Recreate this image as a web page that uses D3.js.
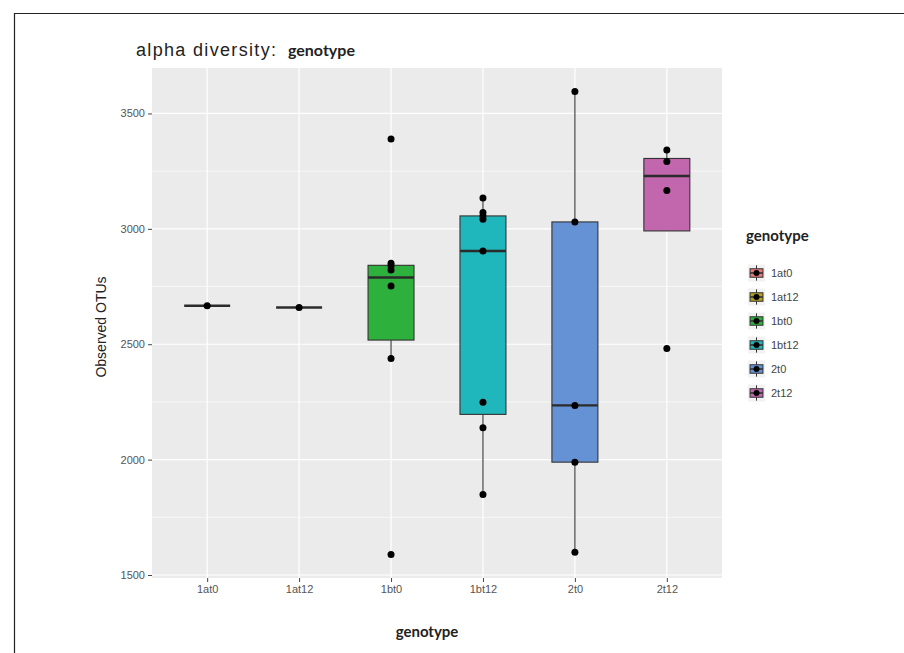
<!DOCTYPE html>
<html>
<head>
<meta charset="utf-8">
<script src="https://cdn.jsdelivr.net/npm/d3@7"></script>
<style>
  body { margin: 0; background: #fff; }
  svg { display: block; }
</style>
</head>
<body>
<script>
// data
const categories = ['1at0', '1at12', '1bt0', '1bt12', '2t0', '2t12'];
const fillColors = ['#E8787A', '#B2A01E', '#2EB13C', '#1FB7BB', '#6592D4', '#C266AE'];
const boxQ1 = [2667, 2659, 2518, 2196, 1989, 2991];
const boxMedian = [2667, 2659, 2789, 2904, 2235, 3229];
const boxQ3 = [2667, 2659, 2842, 3056, 3030, 3305];
const whiskerLow = [2667, 2659, 2438, 1849, 1599, 2991];
const whiskerHigh = [2667, 2659, 2851, 3134, 3595, 3342];
const pointValues = [
  [2667],
  [2659],
  [3389, 2851, 2839, 2822, 2752, 2438, 1589],
  [3134, 3071, 3056, 3042, 2904, 2249, 2138, 1849],
  [3595, 3030, 2235, 1989, 1599],
  [3342, 3292, 3166, 2481]
];
const yMajor = [1500, 2000, 2500, 3000, 3500];
const yMinor = [1750, 2250, 2750, 3250];

const W = 904, H = 653;
const panel = { left: 152, right: 722, top: 68, bottom: 578 };

const svg = d3.select('body').append('svg')
  .attr('width', W)
  .attr('height', H)
  .style('font-family', '"Liberation Sans", Arial, sans-serif');

// frame of the figure
svg.append('path')
  .attr('d', `M14.5,${H} V13.5 H${W}`)
  .attr('fill', 'none')
  .attr('stroke', '#222')
  .attr('stroke-width', 1.2);

const x = d3.scalePoint().domain(categories).range([panel.left, panel.right]).padding(0.6);
const y = d3.scaleLinear().domain([1487, 3697]).range([panel.bottom, panel.top]);
const boxW = x.step() * 0.5;

// panel
svg.append('rect')
  .attr('x', panel.left).attr('y', panel.top)
  .attr('width', panel.right - panel.left)
  .attr('height', panel.bottom - panel.top)
  .attr('fill', '#EBEBEB');

const grid = svg.append('g');
grid.selectAll('.minor').data(yMinor).join('line')
  .attr('x1', panel.left).attr('x2', panel.right)
  .attr('y1', d => y(d)).attr('y2', d => y(d))
  .attr('stroke', '#fff').attr('stroke-width', 0.6);
grid.selectAll('.majorY').data(yMajor).join('line')
  .attr('x1', panel.left).attr('x2', panel.right)
  .attr('y1', d => y(d)).attr('y2', d => y(d))
  .attr('stroke', '#fff').attr('stroke-width', 1.2);
grid.selectAll('.majorX').data(categories).join('line')
  .attr('x1', d => x(d)).attr('x2', d => x(d))
  .attr('y1', panel.top).attr('y2', panel.bottom)
  .attr('stroke', '#fff').attr('stroke-width', 1.2);

// axes
const yAxis = svg.append('g')
  .attr('transform', `translate(${panel.left},0)`)
  .call(d3.axisLeft(y).tickValues(yMajor).tickSize(4).tickPadding(3).tickFormat(d3.format('d')));
const xAxis = svg.append('g')
  .attr('transform', `translate(0,${panel.bottom})`)
  .call(d3.axisBottom(x).tickSize(4).tickPadding(3));
[xAxis, yAxis].forEach(a => {
  a.select('.domain').remove();
  a.selectAll('.tick line').attr('stroke', '#444');
  a.selectAll('.tick text').attr('fill', '#555').style('font-size', '11px')
    .style('font-family', '"Liberation Sans", Arial, sans-serif');
});

// boxes
const boxes = svg.append('g').selectAll('g').data(categories).join('g');
boxes.append('line')
  .attr('x1', d => x(d)).attr('x2', d => x(d))
  .attr('y1', (d, i) => y(whiskerLow[i])).attr('y2', (d, i) => y(boxQ1[i]))
  .attr('stroke', '#333').attr('stroke-width', 1.1);
boxes.append('line')
  .attr('x1', d => x(d)).attr('x2', d => x(d))
  .attr('y1', (d, i) => y(boxQ3[i])).attr('y2', (d, i) => y(whiskerHigh[i]))
  .attr('stroke', '#333').attr('stroke-width', 1.1);
boxes.append('rect')
  .attr('x', d => x(d) - boxW / 2)
  .attr('width', boxW)
  .attr('y', (d, i) => y(boxQ3[i]))
  .attr('height', (d, i) => y(boxQ1[i]) - y(boxQ3[i]))
  .attr('fill', (d, i) => fillColors[i])
  .attr('stroke', '#333').attr('stroke-width', 1.1);
boxes.append('line')
  .attr('x1', d => x(d) - boxW / 2).attr('x2', d => x(d) + boxW / 2)
  .attr('y1', (d, i) => y(boxMedian[i])).attr('y2', (d, i) => y(boxMedian[i]))
  .attr('stroke', '#2b2b2b').attr('stroke-width', 2.4);

// points
const pts = [];
categories.forEach((c, i) => pointValues[i].forEach(v => pts.push({ c, v })));
svg.append('g').selectAll('circle').data(pts).join('circle')
  .attr('cx', d => x(d.c))
  .attr('cy', d => y(d.v))
  .attr('r', 3.5)
  .attr('fill', '#000');

// titles
svg.append('text')
  .attr('x', 136).attr('y', 56)
  .attr('textLength', 140).attr('lengthAdjust', 'spacing')
  .style('font-size', '18px').attr('fill', '#222')
  .text('alpha diversity:');
svg.append('text')
  .attr('x', 288).attr('y', 56)
  .style('font-size', '16px').style('font-weight', 'bold')
  .style('font-family', 'Lato, "Open Sans", sans-serif').attr('fill', '#222')
  .text('genotype');

svg.append('text')
  .attr('x', 427).attr('y', 637)
  .attr('text-anchor', 'middle')
  .style('font-size', '15px').style('font-weight', 'bold')
  .style('font-family', 'Lato, "Open Sans", sans-serif')
  .attr('fill', '#222')
  .text('genotype');

svg.append('text')
  .attr('transform', 'translate(106,327) rotate(-90)')
  .attr('text-anchor', 'middle')
  .style('font-size', '14px')
  .attr('fill', '#222')
  .text('Observed OTUs');

// legend
const legend = svg.append('g').attr('transform', 'translate(746,0)');
legend.append('text')
  .attr('x', 0).attr('y', 241)
  .style('font-size', '15px').style('font-weight', 'bold')
  .style('font-family', 'Lato, "Open Sans", sans-serif')
  .attr('fill', '#222')
  .text('genotype');
const keySize = 17;
const keys = legend.selectAll('.key').data(categories).join('g')
  .attr('transform', (d, i) => `translate(2,${264.5 + i * 24})`);
keys.append('rect').attr('width', keySize).attr('height', keySize).attr('fill', '#F2F2F2');
keys.append('line')
  .attr('x1', keySize / 2).attr('x2', keySize / 2)
  .attr('y1', keySize * 0.05).attr('y2', keySize * 0.95)
  .attr('stroke', '#333').attr('stroke-width', 1);
keys.append('rect')
  .attr('x', keySize * 0.12).attr('y', keySize * 0.25)
  .attr('width', keySize * 0.76).attr('height', keySize * 0.5)
  .attr('fill', (d, i) => fillColors[i])
  .attr('stroke', '#333').attr('stroke-width', 1);
keys.append('line')
  .attr('x1', keySize * 0.12).attr('x2', keySize * 0.88)
  .attr('y1', keySize / 2).attr('y2', keySize / 2)
  .attr('stroke', '#333').attr('stroke-width', 1.6);
keys.append('circle')
  .attr('cx', keySize / 2).attr('cy', keySize / 2).attr('r', 3)
  .attr('fill', '#000');
keys.append('text')
  .attr('x', keySize + 6).attr('y', keySize / 2 + 4)
  .style('font-size', '11px')
  .attr('fill', '#444')
  .text(d => d);
</script>
</body>
</html>
